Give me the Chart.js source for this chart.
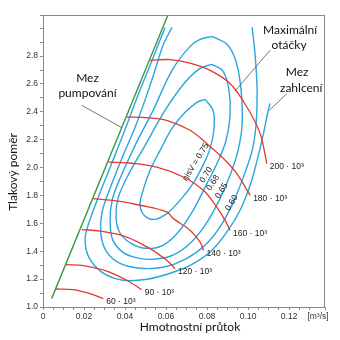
<!DOCTYPE html>
<html>
<head>
<meta charset="utf-8">
<title>Kompresorová mapa</title>
<script src="https://cdn.jsdelivr.net/npm/chart.js"></script>
<style>
  html, body { margin: 0; padding: 0; background: #fff; }
</style>
</head>
<body>
<canvas id="myChart" width="340" height="340"></canvas>
<script>
// surge line (Mez pumpování)
var surgeX = [0.0042, 0.0608];
var surgeY = [1.060, 3.092];

// constant speed lines, x = mass flow, y = pressure ratio
var speedNames = ['60', '90', '120', '140', '160', '180', '200'];
var speedX = [
  [0.0063, 0.0148, 0.0229, 0.0294],
  [0.0112, 0.0197, 0.0311, 0.0408, 0.0481],
  [0.0189, 0.0278, 0.0408, 0.0522, 0.0603, 0.0644],
  [0.0245, 0.0360, 0.0473, 0.0603, 0.0636, 0.0717, 0.0766, 0.0783],
  [0.0319, 0.0424, 0.0555, 0.0684, 0.0782, 0.0847, 0.0888, 0.0912],
  [0.0408, 0.0506, 0.0603, 0.0717, 0.0799, 0.0880, 0.0945, 0.1010],
  [0.0522, 0.0620, 0.0717, 0.0815, 0.0912, 0.0994, 0.1059, 0.1091]
];
var speedY = [
  [1.129, 1.125, 1.096, 1.060],
  [1.304, 1.297, 1.258, 1.192, 1.125],
  [1.555, 1.545, 1.502, 1.419, 1.335, 1.275],
  [1.778, 1.761, 1.730, 1.682, 1.634, 1.551, 1.466, 1.406],
  [2.040, 2.033, 2.004, 1.933, 1.837, 1.717, 1.622, 1.550],
  [2.363, 2.359, 2.339, 2.268, 2.172, 2.065, 1.957, 1.801],
  [2.770, 2.775, 2.750, 2.698, 2.603, 2.435, 2.244, 2.029]
];

// efficiency contours (ηisV)
var effLevels = ['0.75', '0.70', '0.68', '0.65', '0.60'];
var effX = [
  [0.0790, 0.0829, 0.0834, 0.0815, 0.0780, 0.0732, 0.0668, 0.0605, 0.0546, 0.0498, 0.0473, 0.0488, 0.0522, 0.0571, 0.0629, 0.0693, 0.0751, 0.0790],
  [0.0824, 0.0878, 0.0907, 0.0912, 0.0893, 0.0849, 0.0795, 0.0732, 0.0659, 0.0585, 0.0502, 0.0429, 0.0376, 0.0356, 0.0366, 0.0415, 0.0498, 0.0595, 0.0693, 0.0766, 0.0824],
  [0.0824, 0.0898, 0.0941, 0.0966, 0.0971, 0.0951, 0.0912, 0.0859, 0.0790, 0.0707, 0.0620, 0.0522, 0.0449, 0.0390, 0.0341, 0.0327, 0.0337, 0.0376, 0.0449, 0.0537, 0.0629, 0.0717, 0.0766, 0.0824],
  [0.0629, 0.0585, 0.0546, 0.0502, 0.0449, 0.0385, 0.0327, 0.0288, 0.0283, 0.0312, 0.0376, 0.0473, 0.0585, 0.0693, 0.0790, 0.0868, 0.0932, 0.0980, 0.1020, 0.1039, 0.1044, 0.1034, 0.1020],
  [0.0595, 0.0532, 0.0463, 0.0410, 0.0341, 0.0273, 0.0220, 0.0205, 0.0224, 0.0288, 0.0390, 0.0507, 0.0620, 0.0727, 0.0824, 0.0902, 0.0961, 0.1010, 0.1044, 0.1073, 0.1093, 0.1107]
];
var effY = [
  [2.490, 2.411, 2.282, 2.138, 2.016, 1.887, 1.765, 1.672, 1.629, 1.651, 1.730, 1.837, 1.981, 2.124, 2.282, 2.397, 2.468, 2.490],
  [2.741, 2.691, 2.554, 2.375, 2.196, 2.031, 1.873, 1.694, 1.536, 1.443, 1.421, 1.457, 1.529, 1.643, 1.780, 1.945, 2.160, 2.411, 2.612, 2.712, 2.741],
  [2.942, 2.884, 2.762, 2.554, 2.311, 2.124, 1.945, 1.765, 1.586, 1.443, 1.364, 1.342, 1.356, 1.392, 1.478, 1.608, 1.765, 1.923, 2.160, 2.411, 2.698, 2.870, 2.920, 2.942],
  [3.006, 2.877, 2.698, 2.504, 2.289, 2.067, 1.851, 1.679, 1.514, 1.392, 1.313, 1.278, 1.285, 1.342, 1.443, 1.586, 1.765, 1.945, 2.124, 2.311, 2.554, 2.813, 3.006],
  [3.006, 2.770, 2.519, 2.311, 2.052, 1.801, 1.586, 1.478, 1.356, 1.249, 1.192, 1.199, 1.242, 1.306, 1.407, 1.550, 1.694, 1.873, 2.052, 2.232, 2.375, 2.461]
];
// where the ηisV labels sit (data coords)
var effLabelX = [0.0745, 0.0795, 0.0829, 0.0871, 0.0920];
var effLabelY = [2.040, 1.948, 1.891, 1.834, 1.747];

var BLUE = '#2aa6dc', RED = '#e3392f', GREEN = '#3a9944', GREY = '#8a8a8a';

function pts(xs, ys) {
  return xs.map(function(x, i) { return {x: x, y: ys[i]}; });
}

var datasets = [];
datasets.push({ data: pts(surgeX, surgeY), borderColor: GREEN, borderWidth: 1.4, tension: 0, order: 0 });
speedX.forEach(function(xs, i) {
  datasets.push({ data: pts(xs, speedY[i]), borderColor: RED, borderWidth: 1.3, tension: 0.35, order: 1 });
});
effX.forEach(function(xs, i) {
  datasets.push({ data: pts(xs, effY[i]), borderColor: BLUE, borderWidth: 1.4, tension: 0.35, order: 2 });
});

var tickFont = { family: '"Liberation Sans", Arial, sans-serif', size: 8.5 };

var overlay = {
  id: 'overlay',
  afterDatasetsDraw: function(chart) {
    var ctx = chart.ctx, a = chart.chartArea;
    var xs = chart.scales.x, ys = chart.scales.y;
    function px(x) { return xs.getPixelForValue(x); }
    function py(y) { return ys.getPixelForValue(y); }
    ctx.save();
    // frame round the plot
    ctx.strokeStyle = GREY;
    ctx.lineWidth = 1;
    ctx.strokeRect(Math.round(a.left) + 0.5, Math.round(a.top) + 0.5, Math.round(a.right - a.left) - 1, Math.round(a.bottom - a.top));

    // speed labels at the end of each red line
    ctx.fillStyle = '#222';
    ctx.font = '8.5px "Liberation Sans", Arial, sans-serif';
    ctx.textAlign = 'left';
    ctx.textBaseline = 'middle';
    speedNames.forEach(function(n, i) {
      var k = speedX[i].length - 1;
      ctx.fillText(n + ' · 10³', px(speedX[i][k]) + 3, py(speedY[i][k]) + 3);
    });

    // efficiency labels, rotated along the contours
    ctx.textAlign = 'center';
    effLevels.forEach(function(l, i) {
      ctx.save();
      ctx.translate(px(effLabelX[i]), py(effLabelY[i]));
      ctx.rotate(-58 * Math.PI / 180);
      ctx.fillText(i === 0 ? 'ηisV = ' + l : l, 0, 0);
      ctx.restore();
    });

    // annotations with pointer lines
    ctx.strokeStyle = '#555';
    ctx.lineWidth = 0.8;
    function pointer(x1, y1, x2, y2) {
      ctx.beginPath();
      ctx.moveTo(px(x1), py(y1));
      ctx.lineTo(px(x2), py(y2));
      ctx.stroke();
    }
    pointer(0.0189, 2.447, 0.0384, 2.287);
    pointer(0.1107, 2.842, 0.0937, 2.550);
    pointer(0.1189, 2.531, 0.1104, 2.411);

    ctx.fillStyle = '#111';
    ctx.font = '12px Lato, "Noto Sans", sans-serif';
    ctx.fillText('Mez', px(0.0217), py(2.641));
    ctx.fillText('pumpování', px(0.0217), py(2.533));
    ctx.fillText('Maximální', px(0.1205), py(2.985));
    ctx.fillText('otáčky', px(0.1200), py(2.877));
    ctx.fillText('Mez', px(0.1239), py(2.684));
    ctx.fillText('zahlcení', px(0.1259), py(2.569));

    // axis titles
    ctx.font = '12px Lato, "Noto Sans", sans-serif';
    ctx.fillText('Hmotnostní průtok', 190, 327);
    ctx.save();
    ctx.translate(13, 172);
    ctx.rotate(-Math.PI / 2);
    ctx.fillText('Tlakový poměr', 0, 0);
    ctx.restore();
    ctx.font = '8.5px "Liberation Sans", Arial, sans-serif';
    ctx.fillStyle = '#333';
    ctx.fillText('[m³/s]', 318, 317);
    ctx.restore();
  }
};

var ctx = document.getElementById('myChart').getContext('2d');
var myChart = new Chart(ctx, {
  type: 'scatter',
  data: { datasets: datasets },
  options: {
    responsive: false,
    animation: false,
    showLine: true,
    layout: { padding: { top: 15, right: 15, left: 0, bottom: 0 } },
    elements: { point: { radius: 0, hoverRadius: 0 }, line: { fill: false } },
    plugins: { legend: { display: false }, tooltip: { enabled: false } },
    scales: {
      x: {
        type: 'linear',
        min: 0,
        max: 0.1375,
        afterFit: function(s) { s.height = 33; },
        border: { display: false },
        grid: { drawOnChartArea: false, tickLength: 3, color: GREY },
        ticks: {
          stepSize: 0.005,
          autoSkip: false,
          maxRotation: 0,
          padding: 2,
          color: '#333',
          font: tickFont,
          callback: function(v) {
            var k = Math.round(v / 0.02);
            if (Math.abs(v - k * 0.02) > 1e-6) return '';
            return k === 0 ? '0' : (k * 0.02).toFixed(2);
          }
        }
      },
      y: {
        type: 'linear',
        min: 1.0,
        max: 3.095,
        afterFit: function(s) { s.width = 43; },
        border: { display: false },
        grid: { drawOnChartArea: false, tickLength: 3, color: GREY },
        ticks: {
          stepSize: 0.1,
          autoSkip: false,
          padding: 2,
          color: '#333',
          font: tickFont,
          callback: function(v) {
            var k = Math.round(v * 5);
            if (Math.abs(v * 5 - k) > 1e-6 || v > 2.9) return '';
            return v.toFixed(1);
          }
        }
      }
    }
  },
  plugins: [overlay]
});
</script>
</body>
</html>
